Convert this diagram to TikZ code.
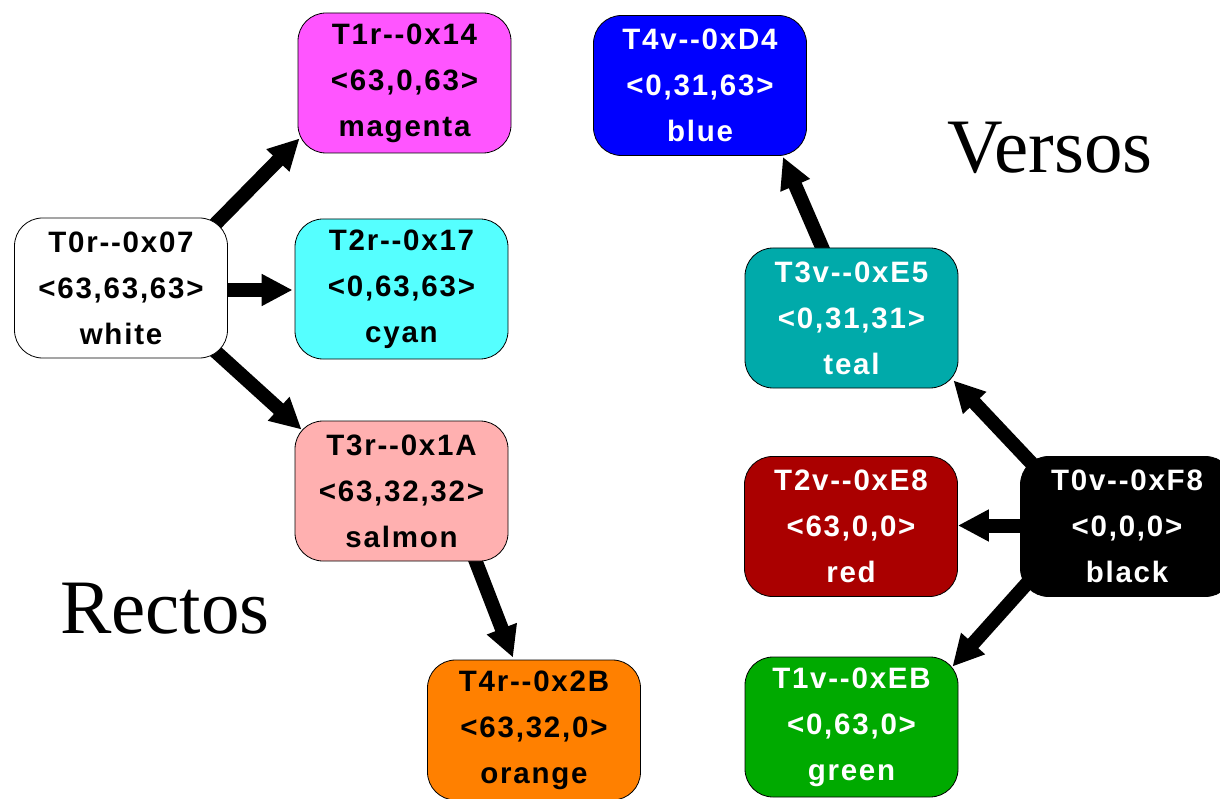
\documentclass[tikz,border=0pt]{standalone}
\usepackage{fontspec}
\usetikzlibrary{arrows.meta,calc,backgrounds}
\newfontfamily\boxfont{Liberation Sans}[LetterSpace=6]
\newfontfamily\titlefont{Liberation Serif}

% tile fills
\definecolor{magentatile}{HTML}{FF55FF}
\definecolor{cyantile}{HTML}{55FFFF}
\definecolor{salmontile}{HTML}{FFB0B0}
\definecolor{orangetile}{HTML}{FF8000}
\definecolor{bluetile}{HTML}{0000FF}
\definecolor{tealtile}{HTML}{00AAAA}
\definecolor{redtile}{HTML}{AA0000}
\definecolor{greentile}{HTML}{00AA00}

\begin{document}
\begin{tikzpicture}[x=1pt,y=-1pt,
  tile/.style={draw=black, line width=0.8pt, rounded corners=28pt,
    minimum width=213pt, minimum height=140pt, align=center, inner sep=0pt,
    font=\boxfont\bfseries\fontsize{29.5}{46}\selectfont},
  lighttile/.style={tile, text=black},
  darktile/.style={tile, text=white},
  link/.style={line width=14pt, -{Triangle[length=31pt,width=30pt]}},
  side/.style={font=\titlefont\fontsize{77}{77}\selectfont, anchor=base west, inner sep=0pt}]

\useasboundingbox (0,0) rectangle (1220,799);

% recto tiles
\node[lighttile, fill=white]       (T0r) at (121,288)   {T0r-{}-0x07\\<63,63,63>\\white};
\node[lighttile, fill=magentatile] (T1r) at (404.5,83)  {T1r-{}-0x14\\<63,0,63>\\magenta};
\node[lighttile, fill=cyantile]    (T2r) at (401.5,289) {T2r-{}-0x17\\<0,63,63>\\cyan};
\node[lighttile, fill=salmontile]  (T3r) at (401.5,491) {T3r-{}-0x1A\\<63,32,32>\\salmon};
\node[lighttile, fill=orangetile]  (T4r) at (534,730)   {T4r-{}-0x2B\\<63,32,0>\\orange};

% verso tiles
\node[darktile, fill=black]     (T0v) at (1127,526.5) {T0v-{}-0xF8\\<0,0,0>\\black};
\node[darktile, fill=greentile] (T1v) at (851.5,727)  {T1v-{}-0xEB\\<0,63,0>\\green};
\node[darktile, fill=redtile]   (T2v) at (851,526.5)  {T2v-{}-0xE8\\<63,0,0>\\red};
\node[darktile, fill=tealtile]  (T3v) at (851.5,318)  {T3v-{}-0xE5\\<0,31,31>\\teal};
\node[darktile, fill=bluetile]  (T4v) at (700,85.5)   {T4v-{}-0xD4\\<0,31,63>\\blue};

% side labels
\node[side] (rectos) at (60,633)  {Rectos};
\node[side] (versos) at (947,173) {Versos};

% connectors, tucked under the tiles
\begin{scope}[on background layer]
  \draw[link] ($(T0r.north east)+(-18,12)$) -- ($(T1r.south west)+(2,-15)$);
  \draw[link] ($(T0r.east)+(-5,2)$)         -- ($(T2r.west)+(-2,1)$);
  \draw[link] ($(T0r.south east)+(-18,-12)$) -- ($(T3r.north west)+(7,9)$);
  \draw[link] ($(T3r.south)+(70,-11)$)      -- ($(T4r.north)+(-21,-2)$);

  \draw[link] ($(T3v.north)+(-25,10)$)      -- ($(T4v.south east)+(-24,1)$);
  \draw[link] ($(T0v.north west)+(17,13)$)  -- ($(T3v.south east)+(-5,-8)$);
  \draw[link] ($(T0v.west)+(5,-1)$)         -- ($(T2v.east)+(0,-1)$);
  \draw[link] ($(T0v.south west)+(10,-17)$) -- ($(T1v.north east)+(-6,10)$);
\end{scope}
\end{tikzpicture}
\end{document}
